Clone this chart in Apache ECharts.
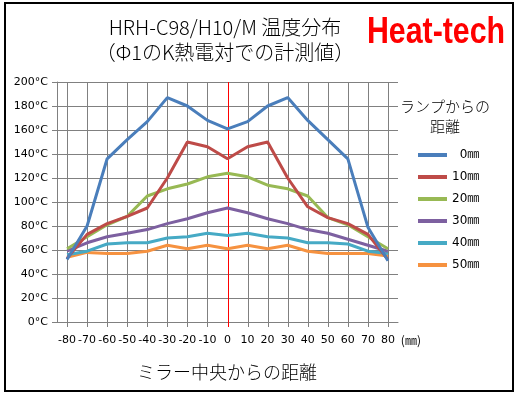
<!DOCTYPE html>
<html>
<head>
<meta charset="utf-8">
<script src="https://cdn.jsdelivr.net/npm/echarts@6/dist/echarts.min.js"></script>
<style>
  html, body { margin: 0; padding: 0; background: #fff; }
  #main { width: 518px; height: 396px; }
</style>
</head>
<body>
<div id="main"></div>
<script>
  // distance from mirror centre (mm)
  var positions = ['-80', '-70', '-60', '-50', '-40', '-30', '-20', '-10', '0',
    '10', '20', '30', '40', '50', '60', '70', '80']

  // distance from lamp -> temperature (°C)
  var lampDistances = ['0㎜', '10㎜', '20㎜', '30㎜', '40㎜', '50㎜']
  var temp0 = [52, 80, 136, 152, 167, 187, 180, 168, 161, 167, 180, 187, 168, 152, 136, 79, 51]
  var temp10 = [53, 73, 82, 88, 95, 120, 150, 146, 136, 146, 150, 120, 96, 87, 82, 73, 52]
  var temp20 = [61, 71, 81, 88, 105, 111, 115, 121, 124, 121, 114, 111, 105, 87, 81, 71, 61]
  var temp30 = [59, 66, 71, 74, 77, 82, 86, 91, 95, 91, 86, 82, 77, 74, 69, 64, 59]
  var temp40 = [56, 59, 65, 66, 66, 70, 71, 74, 72, 74, 71, 70, 66, 66, 65, 59, 57]
  var temp50 = [54, 58, 57, 57, 59, 64, 61, 64, 61, 64, 61, 64, 59, 57, 57, 57, 55]

  var yMin = 0
  var yMax = 200

  var colors = ['#4A7EBB', '#BE4B48', '#98B954', '#7D60A0', '#46AAC5', '#F69240']
  var gridColor = '#808080'
  var numFont = '"DejaVu Sans", "Noto Sans CJK JP", sans-serif'
  var jpFont = '"Noto Sans CJK JP", sans-serif'

  var chart = echarts.init(document.getElementById('main'))

  var allTemps = [temp0, temp10, temp20, temp30, temp40, temp50]
  var series = lampDistances.map(function(name, i) {
    return {
      name: name,
      type: 'line',
      data: allTemps[i],
      symbol: 'none',
      lineStyle: { width: 3, color: colors[i] },
      itemStyle: { color: colors[i] },
      z: 10 - i
    }
  })

  var staticGraphics = [{
    type: 'rect',
    shape: { x: 5, y: 3, width: 508, height: 388 },
    style: { fill: 'none', stroke: '#000', lineWidth: 2 },
    silent: true
  }, {
    type: 'text',
    x: 225,
    y: 40,
    style: {
      text: 'HRH-C98/H10/M 温度分布\n（Φ1のK熱電対での計測値）',
      font: '300 20px "Noto Sans CJK JP"',
      lineHeight: 25,
      fill: '#000',
      align: 'center',
      verticalAlign: 'middle'
    }
  }, {
    type: 'text',
    x: 436,
    y: 33,
    scaleX: 0.82,
    style: {
      text: 'Heat-tech',
      font: 'bold 37px "Liberation Sans", Arial, sans-serif',
      fill: '#ff0000',
      align: 'center',
      verticalAlign: 'middle'
    }
  }, {
    type: 'text',
    x: 445,
    y: 116,
    style: {
      text: 'ランプからの\n距離',
      font: '300 15px "Noto Sans CJK JP"',
      lineHeight: 20,
      fill: '#000',
      align: 'center',
      verticalAlign: 'middle'
    }
  }, {
    type: 'text',
    x: 227,
    y: 372,
    style: {
      text: 'ミラー中央からの距離',
      font: '300 18px "Noto Sans CJK JP"',
      fill: '#000',
      align: 'center',
      verticalAlign: 'middle'
    }
  }]

  chart.setOption({
    animation: false,
    backgroundColor: '#fff',
    grid: {
      left: 57,
      top: 82,
      width: 341,
      height: 240
    },
    legend: {
      orient: 'vertical',
      left: 413,
      top: 144,
      icon: 'rect',
      itemWidth: 29,
      itemHeight: 4,
      itemGap: 10,
      data: lampDistances,
      formatter: function(name) {
        return name.length < 3 ? '  ' + name : name
      },
      textStyle: {
        fontSize: 12,
        color: '#000',
        fontFamily: numFont
      }
    },
    xAxis: {
      type: 'category',
      data: positions,
      boundaryGap: true,
      name: '(㎜)',
      nameLocation: 'end',
      nameGap: 2,
      nameTextStyle: {
        fontFamily: jpFont,
        fontSize: 12,
        color: '#000',
        verticalAlign: 'top',
        padding: [12, 0, 0, 0]
      },
      axisLine: { show: true, lineStyle: { color: gridColor, width: 1 } },
      axisTick: { show: false },
      axisLabel: { margin: 13, fontSize: 11, color: '#000', fontFamily: numFont, interval: 0 },
      splitLine: { show: false }
    },
    yAxis: {
      type: 'value',
      min: yMin,
      max: yMax,
      interval: 20,
      axisLine: { show: true, lineStyle: { color: gridColor, width: 1 } },
      axisTick: { show: true, length: 5, lineStyle: { color: gridColor } },
      axisLabel: {
        margin: 9,
        fontSize: 11,
        color: '#000',
        fontFamily: numFont,
        formatter: '{value}°C'
      },
      splitLine: { show: true, lineStyle: { color: gridColor, width: 1 } }
    },
    graphic: staticGraphics,
    series: series
  })

  // vertical gridlines at each position (red at the centre), placed through the axis scales
  var gridLines = positions.map(function(p) {
    var top = chart.convertToPixel({ xAxisIndex: 0, yAxisIndex: 0 }, [p, yMax])
    var bottom = chart.convertToPixel({ xAxisIndex: 0, yAxisIndex: 0 }, [p, yMin])
    var x = Math.round(top[0]) + 0.5
    return {
      type: 'line',
      silent: true,
      z: 1,
      shape: { x1: x, y1: top[1], x2: x, y2: bottom[1] + 5 },
      style: { stroke: p === '0' ? '#ff0000' : gridColor, lineWidth: 1 }
    }
  })

  chart.setOption({ graphic: staticGraphics.concat(gridLines) })
</script>
</body>
</html>
